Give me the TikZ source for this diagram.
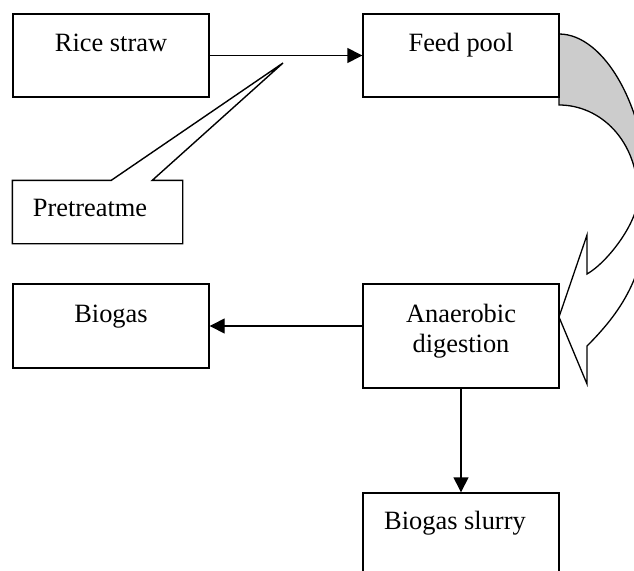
\documentclass[tikz,border=0pt]{standalone}
\usepackage{fontspec}
\setmainfont{Liberation Serif}
\usetikzlibrary{arrows.meta,calc}
\definecolor{bandgray}{RGB}{204,204,204}
\begin{document}
\begin{tikzpicture}[x=1pt,y=-1pt,
  box/.style={draw, line width=1.4pt, inner sep=0pt, minimum width=196pt, font=\fontsize{26.4}{30}\selectfont},
  conn/.style={line width=1.4pt, -{Triangle[length=15pt,width=15pt]}},
  shapeline/.style={line width=1.3pt, line join=miter}]
\useasboundingbox (0,0) rectangle (634,570);
\fill[white] (0,0) rectangle (634,570);
\clip (0,0) rectangle (634,570);
% curved block arrow from Feed pool to Anaerobic digestion
\fill[bandgray] (559,34) .. controls (605,34) and (648,110) .. (648,200) -- (638,197) .. controls (638,140) and (600,105) .. (559,105) -- cycle;
\draw[shapeline] (559,34) .. controls (605,34) and (648,110) .. (648,200)
  .. controls (648,270) and (625,308) .. (587,346) -- (587,384) -- (559,317) -- (587,235) -- (587,274)
  .. controls (608,262) and (638,222) .. (638,197) .. controls (638,140) and (600,105) .. (559,105) -- cycle;
% boxes
\node[box, text height=37pt, text depth=46pt] (rice) at (111,55.5) {Rice straw};
\node[box, text height=37pt, text depth=46pt] (feed) at (461,55.5) {Feed pool};
\node[box, text height=38pt, text depth=46pt] (biogas) at (111,326) {Biogas};
\node[box, text height=38pt, text depth=66pt] (ana) at (461,336) {\begin{tabular}[t]{@{}c@{}}Anaerobic\\digestion\end{tabular}};
\node[box, text height=36pt, text depth=48pt] (slurry) at (461,535) {\hspace*{-12pt}Biogas slurry};
% callout
\node[box, draw=none, minimum width=169pt, text height=35pt, text depth=27pt] (pre) at (97.5,212) {\hspace*{-15pt}Pretreatme};
\coordinate (ctip) at (283,63);
\draw[shapeline, line width=1.4pt] (pre.north west) -- ++(99,0) -- (ctip) -- ($(pre.north west)+(140,0)$) -- (pre.north east) -- (pre.south east) -- (pre.south west) -- cycle;
% connectors
\draw[conn] (rice.east) -- (feed.west);
\draw[conn] (ana.west |- biogas.east) -- (biogas.east);
\draw[conn] (ana.south) -- (slurry.north);
\end{tikzpicture}
\end{document}
